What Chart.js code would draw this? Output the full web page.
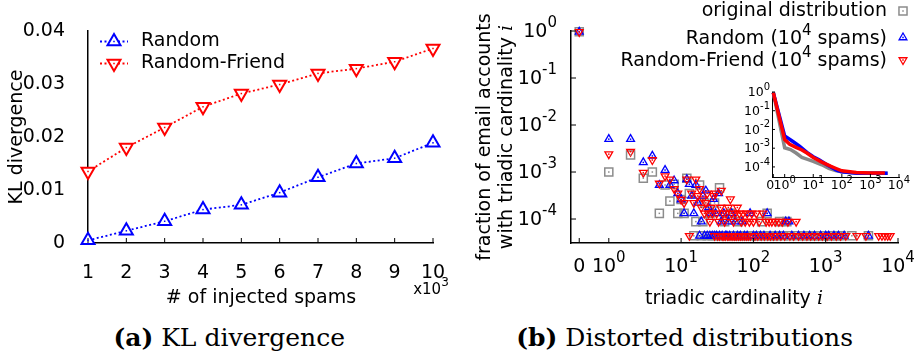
<!DOCTYPE html>
<html>
<head>
<meta charset="utf-8">
<script src="https://cdn.jsdelivr.net/npm/chart.js@4.4.1/dist/chart.umd.min.js"></script>
<style>
html, body { margin: 0; padding: 0; background: #fff; }
#wrap { position: relative; width: 919px; height: 355px; overflow: hidden; }
canvas { position: absolute; }
#klChart { left: 0; top: 0; }
#distChart { left: 460px; top: 0; }
#insetChart { left: 730px; top: 80px; }
.cap { position: absolute; top: 325px; font-family: "DejaVu Serif", serif; font-size: 25px; line-height: 25px; white-space: nowrap; color: #000; }
</style>
</head>
<body>
<div id="wrap">
  <canvas id="klChart" width="460" height="310"></canvas>
  <canvas id="distChart" width="459" height="310"></canvas>
  <canvas id="insetChart" width="189" height="120"></canvas>
  <div class="cap" style="right:574px"><b>(a)</b> KL divergence</div>
  <div class="cap" style="right:66px"><b>(b)</b> Distorted distributions</div>
</div>
<script>
// (a) KL divergence, x in thousands of injected spams
const spams = [1, 2, 3, 4, 5, 6, 7, 8, 9, 10];
const klRandom = [0.0005, 0.0023, 0.0041, 0.0063, 0.0072, 0.0095, 0.0124, 0.0150, 0.0160, 0.0189];
const klRandomFriend = [0.0135, 0.0180, 0.0218, 0.0257, 0.0282, 0.0299, 0.0320, 0.0329, 0.0342, 0.0367];
const klTicks = [0, 0.01, 0.02, 0.03, 0.04];

// (b) fraction of accounts with triadic cardinality i, as [i, fraction]
const origPoints = [
  [0, 0.96], [1, 1.0e-3], [2, 2.3e-3], [3, 7.4e-4], [4, 1.0e-3], [5, 1.32e-4], [6, 5.3e-4], [7, 2.4e-4],
  [8, 5.5e-4], [9, 1.32e-4], [10, 2.6e-4], [11, 1.32e-4], [12, 7.4e-4], [13, 3.5e-4], [15, 4.4e-5],
  [16, 8.8e-5], [18, 5.3e-4], [19, 4.4e-5], [20, 8.8e-5], [21, 2.2e-4], [23, 4.4e-5], [25, 1.32e-4],
  [27, 4.4e-5], [29, 2.2e-4], [31, 4.4e-5], [34, 4.6e-4], [36, 4.4e-5], [40, 8.8e-5], [42, 4.4e-5],
  [48, 1.32e-4], [52, 4.4e-5], [58, 4.4e-5], [62, 8.8e-5], [65, 4.4e-5], [72, 4.4e-5], [80, 4.4e-5],
  [90, 4.4e-5], [100, 4.4e-5], [112, 4.4e-5], [125, 4.4e-5], [130, 8.8e-5], [140, 4.4e-5], [155, 1.32e-4],
  [170, 4.4e-5], [190, 4.4e-5], [210, 4.4e-5], [230, 8.8e-5], [260, 4.4e-5], [290, 8.8e-5], [320, 4.4e-5],
  [400, 4.4e-5], [480, 4.4e-5], [560, 4.4e-5], [650, 4.4e-5], [750, 4.4e-5], [860, 4.4e-5], [980, 4.4e-5],
  [1100, 4.4e-5], [1250, 4.4e-5], [1450, 4.4e-5], [1650, 4.4e-5], [2300, 4.4e-5], [3900, 4.4e-5]
];
const randPoints = [
  [0, 0.96], [1, 5.0e-3], [2, 5.0e-3], [3, 1.6e-3], [4, 2.2e-3], [5, 5.3e-4], [6, 1.1e-3], [7, 5.3e-4],
  [8, 6.6e-4], [9, 3.5e-4], [10, 2.6e-4], [11, 1.32e-4], [12, 7.0e-4], [13, 5.5e-4], [14, 3.1e-4],
  [15, 1.32e-4], [16, 5.3e-4], [17, 2.2e-4], [18, 4.4e-5], [19, 8.8e-5], [20, 3.1e-4], [21, 4.4e-5],
  [22, 4.0e-4], [23, 4.4e-5], [24, 1.76e-4], [25, 4.4e-5], [26, 1.32e-4], [27, 4.4e-5], [28, 2.64e-4],
  [29, 4.4e-5], [30, 1.32e-4], [31, 4.4e-5], [33, 3.5e-4], [34, 4.4e-5], [36, 8.8e-5], [37, 4.4e-5],
  [39, 1.32e-4], [41, 4.4e-5], [43, 4.4e-5], [45, 8.8e-5], [47, 4.4e-5], [50, 1.32e-4], [53, 4.4e-5],
  [56, 8.8e-5], [60, 4.4e-5], [66, 4.4e-5], [70, 8.8e-5], [75, 4.4e-5], [82, 4.4e-5], [90, 1.32e-4],
  [100, 4.4e-5], [110, 4.4e-5], [125, 4.4e-5], [140, 4.4e-5], [155, 1.32e-4], [170, 4.4e-5], [200, 4.4e-5],
  [230, 4.4e-5], [260, 4.4e-5], [280, 8.8e-5], [310, 8.8e-5], [340, 4.4e-5], [420, 4.4e-5], [500, 4.4e-5],
  [600, 4.4e-5], [700, 4.4e-5], [850, 4.4e-5], [1000, 4.4e-5], [1100, 4.4e-5], [1300, 4.4e-5],
  [1500, 4.4e-5], [1800, 4.4e-5], [3900, 4.4e-5]
];
const rfPoints = [
  [0, 0.96], [1, 2.4e-3], [2, 2.7e-3], [3, 9.7e-4], [4, 1.8e-3], [5, 5.7e-4], [6, 8.2e-4], [7, 7.0e-4],
  [8, 4.4e-4], [9, 3.5e-4], [10, 2.6e-4], [11, 2.2e-4], [12, 7.0e-4], [13, 4.4e-5], [14, 3.5e-4],
  [15, 2.2e-4], [16, 7.0e-4], [17, 3.1e-4], [18, 4.4e-4], [19, 1.76e-4], [20, 2.64e-4], [21, 1.32e-4],
  [22, 2.2e-4], [23, 3.5e-4], [24, 1.32e-4], [25, 8.8e-5], [26, 1.76e-4], [27, 1.32e-4], [28, 3.1e-4],
  [29, 4.4e-5], [30, 3.5e-4], [31, 1.32e-4], [32, 4.4e-5], [33, 8.8e-5], [34, 4.4e-5], [35, 1.76e-4],
  [36, 4.0e-4], [37, 4.4e-5], [38, 1.32e-4], [39, 4.4e-5], [40, 8.8e-5], [41, 4.4e-5], [42, 1.32e-4],
  [44, 4.4e-5], [45, 1.76e-4], [46, 4.4e-5], [48, 2.64e-4], [49, 4.4e-5], [50, 1.32e-4], [52, 4.4e-5],
  [53, 8.8e-5], [55, 4.4e-5], [56, 1.32e-4], [58, 4.4e-5], [60, 1.76e-4], [62, 4.4e-5], [64, 1.32e-4],
  [66, 4.4e-5], [68, 8.8e-5], [70, 4.4e-5], [72, 1.32e-4], [75, 4.4e-5], [77, 8.8e-5], [80, 4.4e-5],
  [82, 1.32e-4], [85, 4.4e-5], [88, 8.8e-5], [91, 4.4e-5], [95, 1.32e-4], [100, 8.8e-5], [105, 4.4e-5],
  [110, 1.32e-4], [115, 4.4e-5], [120, 8.8e-5], [128, 4.4e-5], [135, 1.32e-4], [142, 4.4e-5], [150, 8.8e-5],
  [158, 4.4e-5], [165, 8.8e-5], [172, 4.4e-5], [180, 8.8e-5], [190, 4.4e-5], [200, 8.8e-5], [212, 4.4e-5],
  [225, 8.8e-5], [240, 4.4e-5], [250, 8.8e-5], [270, 4.4e-5], [300, 8.8e-5], [320, 4.4e-5], [360, 4.4e-5],
  [390, 8.8e-5], [420, 4.4e-5], [480, 4.4e-5], [550, 4.4e-5], [620, 4.4e-5], [700, 4.4e-5], [800, 4.4e-5],
  [900, 4.4e-5], [1050, 4.4e-5], [1200, 4.4e-5], [1400, 4.4e-5], [1600, 4.4e-5], [1900, 4.4e-5],
  [2700, 4.4e-5], [3600, 4.4e-5], [5400, 4.4e-5], [6000, 4.4e-5], [6600, 4.4e-5], [7200, 4.4e-5], [7800, 4.4e-5]
];
const distXTicks = [0, 1, 10, 100, 1000, 10000];
const distYTicks = [1e-4, 1e-3, 1e-2, 1e-1, 1];

// inset: same distributions as lines
const insetOrig = [[0, 0.93], [1, 1.05e-3], [1.6, 8.5e-4], [2.5, 5.5e-4], [4, 3.2e-4], [6, 2.6e-4], [10, 2.0e-4],
  [20, 1.3e-4], [35, 8.5e-5], [60, 6.5e-5], [100, 5.5e-5], [300, 4.8e-5], [1000, 4.6e-5], [4000, 4.6e-5]];
const insetRand = [[0, 0.93], [1, 4.5e-3], [2, 2.2e-3], [3.3, 1.3e-3], [6, 6.0e-4], [10, 3.5e-4], [16, 2.4e-4],
  [30, 1.3e-4], [67, 6.5e-5], [100, 5.5e-5], [330, 4.6e-5], [1000, 4.6e-5], [4000, 4.6e-5]];
const insetRf = [[0, 0.93], [1, 2.9e-3], [1.5, 1.6e-3], [2.5, 1.1e-3], [4, 8.0e-4], [6, 5.5e-4], [10, 3.2e-4],
  [20, 1.8e-4], [40, 1.1e-4], [60, 8.5e-5], [100, 6.2e-5], [320, 5.0e-5], [1000, 4.7e-5], [3200, 4.7e-5]];

const ZERO_POS = 0.39;   // where i = 0 sits on the log axis
const INSET_ZERO = 0.4;
const BLUE = '#0000ff', RED = '#ff0000', GREY = '#8c8c8c';
const SANS = '"DejaVu Sans", sans-serif';
const SERIF = '"DejaVu Serif", serif';

Chart.defaults.font.family = SANS;
Chart.defaults.font.size = 19;
Chart.defaults.color = '#000';

// text helpers (superscripts, italic i)
const T = (t, s) => ({ t: t, f: (s || 19) + 'px ' + SANS });
const SUP = (t, s) => ({ t: t, f: Math.round((s || 19) * 0.78) + 'px ' + SANS, up: (s || 19) * 0.45 });
const IT = (t, s) => ({ t: t, f: 'italic ' + (s || 19) + 'px ' + SERIF });
const pow10 = (v, s) => [T('10', s), SUP(String(Math.round(Math.log10(v))), s)];

function drawRich(ctx, parts, x, y, align) {
    let w = 0;
    parts.forEach(p => { ctx.font = p.f; p.w = ctx.measureText(p.t).width; w += p.w; });
    let cx = align === 'right' ? x - w : (align === 'center' ? x - w / 2 : x);
    ctx.textAlign = 'left';
    ctx.textBaseline = 'middle';
    ctx.fillStyle = '#000';
    parts.forEach(p => { ctx.font = p.f; ctx.fillText(p.t, cx, y - (p.up || 0)); cx += p.w; });
}

function drawRotated(ctx, parts, x, y) {
    ctx.save();
    ctx.translate(x, y);
    ctx.rotate(-Math.PI / 2);
    drawRich(ctx, parts, 0, 0, 'center');
    ctx.restore();
}

// small tick marks pointing into the plot
function inTicks(ctx, scale, len, pixels) {
    ctx.save();
    ctx.strokeStyle = '#000';
    ctx.lineWidth = 1;
    pixels.forEach(p => {
        ctx.beginPath();
        if (scale.isHorizontal()) { ctx.moveTo(p, scale.top); ctx.lineTo(p, scale.top - len); }
        else { ctx.moveTo(scale.right, p); ctx.lineTo(scale.right + len, p); }
        ctx.stroke();
    });
    ctx.restore();
}

function centerDots(chart, idx, color) {
    const ctx = chart.ctx;
    ctx.fillStyle = color;
    chart.getDatasetMeta(idx).data.forEach(el => ctx.fillRect(el.x - 0.75, el.y - 0.75, 1.5, 1.5));
}

function legendMarker(ctx, style, rotation, radius, width, color, x, y, fill) {
    ctx.save();
    ctx.strokeStyle = color;
    ctx.fillStyle = fill || 'rgba(0,0,0,0)';
    ctx.lineWidth = width;
    Chart.helpers.drawPoint(ctx, { pointStyle: style, rotation: rotation, radius: radius, borderWidth: width }, x, y);
    ctx.restore();
    ctx.fillStyle = color;
    ctx.fillRect(x - 0.75, y - 0.75, 1.5, 1.5);
}

// ---------- (a) ----------
const klDecor = {
    id: 'klDecor',
    afterDraw(chart) {
        const ctx = chart.ctx;
        const xs = chart.scales.x;
        inTicks(ctx, xs, 5, spams.map(v => xs.getPixelForValue(v)));
        centerDots(chart, 0, BLUE);
        centerDots(chart, 1, RED);
        drawRich(ctx, [T('x10', 15), SUP('3', 15)], 431, 290, 'center');
        drawRich(ctx, [T('# of injected spams')], 261, 298, 'center');
        drawRotated(ctx, [T('KL divergence')], 17, 137);
        // legend
        const rows = [[41.5, BLUE, 0, 'Random'], [63.5, RED, 180, 'Random-Friend']];
        rows.forEach(r => {
            ctx.save();
            ctx.strokeStyle = r[1];
            ctx.lineWidth = 1.8;
            ctx.setLineDash([2, 2.5]);
            ctx.beginPath(); ctx.moveTo(100, r[0]); ctx.lineTo(128, r[0]); ctx.stroke();
            ctx.restore();
            legendMarker(ctx, 'triangle', r[2], 7.5, 2, r[1], 114, r[0], '#fff');
            drawRich(ctx, [T(r[3])], 141, r[0], 'left');
        });
    }
};

new Chart(document.getElementById('klChart'), {
    type: 'line',
    data: {
        datasets: [
            {
                label: 'Random',
                data: spams.map((s, k) => ({ x: s, y: klRandom[k] })),
                borderColor: BLUE, borderWidth: 1.8, borderDash: [2, 2.5],
                pointStyle: 'triangle', pointRadius: 7.5, pointBorderWidth: 2,
                pointBorderColor: BLUE, pointBackgroundColor: '#fff', clip: false
            },
            {
                label: 'Random-Friend',
                data: spams.map((s, k) => ({ x: s, y: klRandomFriend[k] })),
                borderColor: RED, borderWidth: 1.8, borderDash: [2, 2.5],
                pointStyle: 'triangle', pointRotation: 180, pointRadius: 7.5, pointBorderWidth: 2,
                pointBorderColor: RED, pointBackgroundColor: '#fff', clip: false
            }
        ]
    },
    options: {
        responsive: false, animation: false, events: [], devicePixelRatio: 1,
        layout: { padding: { top: 31, right: 27, left: 0, bottom: 0 } },
        plugins: { legend: { display: false }, tooltip: { enabled: false } },
        scales: {
            x: {
                type: 'linear', min: 1, max: 10,
                afterBuildTicks: s => { s.ticks = spams.map(v => ({ value: v })); },
                afterFit: s => { s.height = 67; },
                grid: { display: false },
                border: { color: '#000', width: 1.5 },
                ticks: { padding: 11, maxRotation: 0, autoSkip: false }
            },
            y: {
                type: 'linear', min: 0, max: 0.04,
                afterBuildTicks: s => { s.ticks = klTicks.map(v => ({ value: v })); },
                afterFit: s => { s.width = 88; },
                grid: { display: false },
                border: { color: '#000', width: 1.5 },
                ticks: { padding: 15, callback: v => (v === 0 ? '0' : v.toFixed(2)) }
            }
        }
    },
    plugins: [klDecor]
});

// ---------- (b) ----------
const toXY = (pts, zero) => pts.map(p => ({ x: p[0] === 0 ? zero : p[0], y: p[1] }));

const distDecor = {
    id: 'distDecor',
    afterDraw(chart) {
        const ctx = chart.ctx;
        const xs = chart.scales.x, ys = chart.scales.y;
        centerDots(chart, 2, GREY);
        centerDots(chart, 1, BLUE);
        centerDots(chart, 0, RED);
        const xp = distXTicks.map(v => xs.getPixelForValue(v === 0 ? ZERO_POS : v));
        inTicks(ctx, xs, 5, xp);
        inTicks(ctx, ys, 5, distYTicks.map(v => ys.getPixelForValue(v)));
        distXTicks.forEach((v, k) => drawRich(ctx, v === 0 ? [T('0')] : pow10(v), xp[k], 267, 'center'));
        distYTicks.forEach(v => drawRich(ctx, pow10(v), ys.right - 14, ys.getPixelForValue(v) + 1, 'right'));
        drawRich(ctx, [T('triadic cardinality '), IT('i')], 274, 299, 'center');
        drawRotated(ctx, [T('fraction of email accounts')], 25, 137);
        drawRotated(ctx, [T('with triadic cardinality '), IT('i')], 47, 137);
        // legend, text right-aligned with the marker on the right
        drawRich(ctx, [T('original distribution')], 427, 11, 'right');
        drawRich(ctx, [T('Random (10'), SUP('4'), T(' spams)')], 427, 39.5, 'right');
        drawRich(ctx, [T('Random-Friend (10'), SUP('4'), T(' spams)')], 427, 61.5, 'right');
        legendMarker(ctx, 'rect', 0, 5.7, 1.5, GREY, 443, 11);
        legendMarker(ctx, 'triangle', 0, 4.5, 1.3, BLUE, 443, 37.5);
        legendMarker(ctx, 'triangle', 180, 4.5, 1.3, RED, 443, 60);
    }
};

const scatterSet = (label, pts, color, style, rot, radius, bw) => ({
    label: label, data: toXY(pts, ZERO_POS), showLine: false,
    pointStyle: style, pointRotation: rot, pointRadius: radius, pointBorderWidth: bw,
    pointBorderColor: color, pointBackgroundColor: 'rgba(0,0,0,0)', clip: false
});

new Chart(document.getElementById('distChart'), {
    type: 'scatter',
    data: {
        datasets: [
            scatterSet('Random-Friend (10^4 spams)', rfPoints, RED, 'triangle', 180, 4.5, 1.3),
            scatterSet('Random (10^4 spams)', randPoints, BLUE, 'triangle', 0, 4.5, 1.3),
            scatterSet('original distribution', origPoints, GREY, 'rect', 0, 5.7, 1.5)
        ]
    },
    options: {
        responsive: false, animation: false, events: [], devicePixelRatio: 1,
        layout: { padding: { top: 31, right: 21, left: 0, bottom: 0 } },
        plugins: { legend: { display: false }, tooltip: { enabled: false } },
        scales: {
            x: {
                type: 'logarithmic', min: 0.3, max: 10000,
                afterBuildTicks: s => { s.ticks = distXTicks.map(v => ({ value: v === 0 ? ZERO_POS : v })); },
                afterFit: s => { s.height = 67; },
                grid: { display: false },
                border: { color: '#000', width: 1.5 },
                ticks: { display: false }
            },
            y: {
                type: 'logarithmic', min: 3.09e-5, max: 1,
                afterBuildTicks: s => { s.ticks = distYTicks.map(v => ({ value: v })); },
                afterFit: s => { s.width = 111; },
                grid: { display: false },
                border: { color: '#000', width: 1.5 },
                ticks: { display: false }
            }
        }
    },
    plugins: [distDecor]
});

// ---------- inset ----------
const insetDecor = {
    id: 'insetDecor',
    afterDraw(chart) {
        const ctx = chart.ctx;
        const xs = chart.scales.x, ys = chart.scales.y;
        const xp = distXTicks.map(v => xs.getPixelForValue(v === 0 ? INSET_ZERO : v));
        inTicks(ctx, xs, 3, xp);
        inTicks(ctx, ys, 3, distYTicks.map(v => ys.getPixelForValue(v)));
        distXTicks.forEach((v, k) => drawRich(ctx, v === 0 ? [T('0', 12.5)] : pow10(v, 12.5), xp[k] + (v === 0 ? -3 : 0), 106, 'center'));
        distYTicks.forEach(v => drawRich(ctx, pow10(v, 12.5), ys.right - 2, ys.getPixelForValue(v) + 1, 'right'));
    }
};

const lineSet = (label, pts, color) => ({
    label: label, data: toXY(pts, INSET_ZERO), borderColor: color, borderWidth: 3.5,
    pointRadius: 0, tension: 0, fill: false, clip: false
});

new Chart(document.getElementById('insetChart'), {
    type: 'line',
    data: {
        datasets: [
            lineSet('Random-Friend', insetRf, RED),
            lineSet('Random', insetRand, BLUE),
            lineSet('original', insetOrig, '#888888')
        ]
    },
    options: {
        responsive: false, animation: false, events: [], devicePixelRatio: 1,
        layout: { padding: { top: 12, right: 20, left: 0, bottom: 0 } },
        plugins: { legend: { display: false }, tooltip: { enabled: false } },
        scales: {
            x: {
                type: 'logarithmic', min: 0.36, max: 10000,
                afterBuildTicks: s => { s.ticks = distXTicks.map(v => ({ value: v === 0 ? INSET_ZERO : v })); },
                afterFit: s => { s.height = 23; },
                grid: { display: false },
                border: { color: '#000', width: 1 },
                ticks: { display: false }
            },
            y: {
                type: 'logarithmic', min: 2.9e-5, max: 1,
                afterBuildTicks: s => { s.ticks = distYTicks.map(v => ({ value: v })); },
                afterFit: s => { s.width = 42; },
                grid: { display: false },
                border: { color: '#000', width: 1 },
                ticks: { display: false }
            }
        }
    },
    plugins: [insetDecor]
});
</script>
</body>
</html>
